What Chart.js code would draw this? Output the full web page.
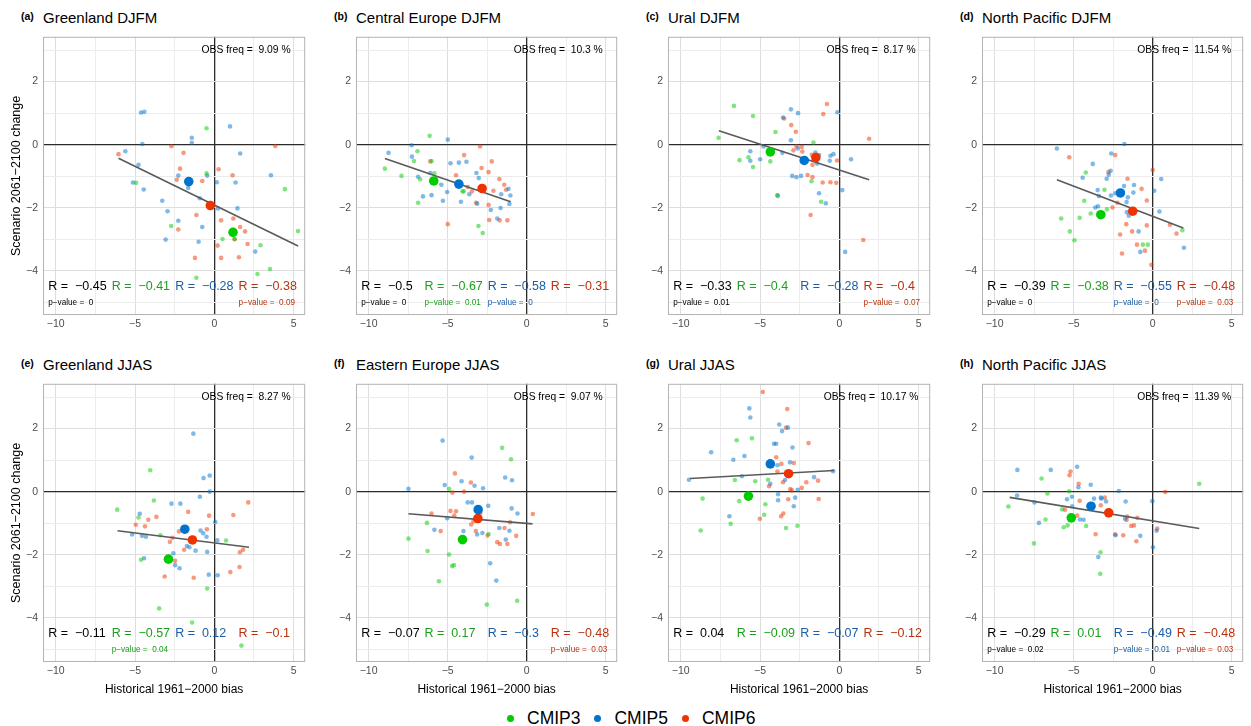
<!DOCTYPE html>
<html>
<head>
<meta charset="utf-8">
<script src="https://cdn.jsdelivr.net/npm/chart.js@4.4.1/dist/chart.umd.min.js"></script>
<style>
  body { margin: 0; background: #fff; width: 1251px; height: 726px; position: relative; overflow: hidden;
         font-family: "Liberation Sans", Arial, Helvetica, sans-serif; }
  .box { position: absolute; }
  .tag { position: absolute; font-weight: bold; font-size: 10.5px; line-height: 12px; }
  .name { position: absolute; font-size: 15px; line-height: 18px; white-space: nowrap; }
  #legend { position: absolute; top: 707px; left: 507px; display: flex; align-items: center;
            font-size: 17.5px; line-height: 22px; }
  #legend .dot { width: 7px; height: 7px; border-radius: 50%; margin-right: 13px; }
  #legend .lab { margin-right: 14px; }
</style>
</head>
<body>
<div id="legend"></div>
<script>
// panels
const panelIds = ['a', 'b', 'c', 'd', 'e', 'f', 'g', 'h'];
const panelNames = ['Greenland DJFM', 'Central Europe DJFM', 'Ural DJFM', 'North Pacific DJFM',
                    'Greenland JJAS', 'Eastern Europe JJAS', 'Ural JJAS', 'North Pacific JJAS'];
const obsFreq = ['9.09', '10.3', '8.17', '11.54', '8.27', '9.07', '10.17', '11.39'];

const seriesNames = ['CMIP3', 'CMIP5', 'CMIP6'];
const seriesColors = ['#00cc00', '#0073cf', '#ee3300'];
const seriesFaded = ['rgba(0,204,0,0.5)', 'rgba(0,115,207,0.5)', 'rgba(238,51,0,0.5)'];
const statColors = ['#000000', '#1ea01e', '#1a5ea8', '#b8320f'];

// correlation R (all, CMIP3, CMIP5, CMIP6) and shown p-values (null = not shown)
const rAll = [-0.45, -0.5, -0.33, -0.39, -0.11, -0.07, 0.04, -0.29];
const r3 = [-0.41, -0.67, -0.4, -0.38, -0.57, 0.17, -0.09, 0.01];
const r5 = [-0.28, -0.58, -0.28, -0.55, 0.12, -0.3, -0.07, -0.49];
const r6 = [-0.38, -0.31, -0.4, -0.48, -0.1, -0.48, -0.12, -0.48];
const pAll = [0, 0, 0.01, 0, null, null, null, 0.02];
const p3 = [null, 0.01, null, null, 0.04, null, null, null];
const p5 = [null, 0, null, 0, null, null, null, 0.01];
const p6 = [0.09, null, 0.07, 0.03, null, 0.03, null, 0.03];

// axes
const xMin = -10.8, xMax = 5.73, yMin = -5.4, yMax = 3.42;
const xTickVals = [-10, -7.5, -5, -2.5, 0, 2.5, 5];
const yTickVals = [-5, -4, -3, -2, -1, 0, 1, 2, 3];

// model points [bias, change]
const cmip3_a = [[-0.49,0.52],[-0.49,-0.91],[-4.93,-1.21],[4.45,-1.41],[-2.72,-2.58],[0.52,-2.99],[1.28,-2.99],[2.91,-3.19],[5.28,-2.74],[3.51,-3.94],[2.72,-4.1],[-1.13,-4.22]];
const cmip5_a = [[-4.62,1.02],[-4.41,1.04],[-5.61,-0.21],[-4.54,0.02],[-4.78,-0.64],[-5.13,-1.2],[-4.45,-1.42],[-1.42,0.22],[-1.42,0.06],[-0.45,-0.98],[0.99,0.58],[1.63,-0.28],[-2.27,-0.98],[-1.65,-1.37],[-0.91,-1.7],[0.16,-1.19],[1.34,-1.2],[1.46,-2.02],[0.23,-2.02],[-3.28,-1.78],[-2.95,-2.11],[-2.27,-2.41],[-0.76,-2.61],[-3.07,-3.01],[-0.99,-3.08],[3.57,-0.97],[2.58,-3.39]];
const cmip6_a = [[-6.04,-0.3],[-2.7,-0.05],[-1.94,-0.26],[-2.16,-0.76],[-2.37,-1.11],[-0.76,-1.15],[0.27,-0.78],[1.15,-0.97],[3.84,-0.04],[-1.13,-2.23],[-2.27,-2.69],[0.43,-2.4],[1.2,-2.34],[1.63,-2.61],[1.94,-2.75],[1.28,-3.0],[0.21,-3.2],[2.1,-3.15],[-1.22,-3.59],[0.43,-3.59],[1.55,-3.57]];

const cmip3_b = [[-6.14,0.28],[-8.97,-0.76],[-7.92,-0.99],[-7.13,-0.52],[-6.91,-0.21],[-6.74,-1.1],[-6.87,-1.84],[-6.02,-0.52],[-5.84,-0.91],[-4.06,-1.48],[-3.98,-1.48],[-3.05,-2.58],[-2.78,-2.8]];
const cmip5_b = [[-8.74,-0.26],[-7.28,-0.02],[-7.26,-0.38],[-4.99,0.16],[-6.87,-1.02],[-6.1,-0.9],[-6.56,-1.64],[-6.02,-1.6],[-5.4,-1.27],[-5.3,-1.78],[-5.03,-1.5],[-4.82,-0.59],[-4.29,-0.57],[-3.81,-0.54],[-4.16,-1.81],[-3.63,-1.57],[-3.18,-0.9],[-3.03,-1.06],[-3.13,-1.87],[-2.27,-2.07],[-1.86,-2.34],[-1.61,-1.57],[-1.65,-2.01],[-1.15,-1.4],[-1.03,-1.61],[-1.09,-1.88]];
const cmip6_b = [[-6.1,-0.53],[-4.47,-0.97],[-3.96,-0.33],[-2.95,-0.06],[-2.85,-0.74],[-2.41,-0.87],[-2.21,-0.53],[-3.73,-1.34],[-3.46,-1.48],[-2.1,-1.46],[-1.73,-1.09],[-1.42,-1.27],[-1.3,-1.43],[-3.2,-1.84],[-2.41,-1.91],[-4.99,-2.52],[-2.37,-2.39],[-1.71,-2.4],[-1.22,-2.4]];

const cmip3_c = [[-6.64,1.23],[-5.44,0.91],[-7.61,0.22],[-4.02,0.4],[-6.29,-0.49],[-5.73,-0.4],[-5.44,-0.71],[-4.35,-0.53],[-3.88,-1.63],[-1.63,0.07],[-1.75,-1.16],[-1.15,-1.81]];
const cmip5_c = [[-5.61,-0.21],[-5.61,-0.51],[-4.99,-0.46],[-4.78,-0.06],[-3.59,-0.26],[-3.55,0.86],[-3.05,1.12],[-2.6,1.0],[-3.05,0.14],[-2.62,-0.12],[-2.97,-0.99],[-2.7,-1.03],[-2.41,-0.99],[-3.9,-1.6],[-1.51,-0.25],[-1.28,-0.33],[-1.4,-0.6],[-0.56,-0.35],[-0.37,-0.3],[-0.6,-0.51],[0.74,-0.46],[-0.12,1.03],[-1.28,-1.54],[-0.85,-1.86],[0.19,-1.44],[0.37,-3.4]];
const cmip6_c = [[-3.48,0.83],[-3.03,0.62],[-2.74,0.41],[-0.78,1.29],[-1.01,0.97],[-2.89,-0.18],[-2.7,-0.05],[-2.37,-0.07],[-2.33,-0.22],[-1.73,-0.32],[-1.69,-0.64],[-2.0,-0.96],[-1.69,-1.03],[-1.05,-1.2],[-0.56,-1.19],[-0.19,-1.21],[-0.14,-0.5],[1.88,0.19],[-1.81,-2.23],[1.51,-3.02]];

const cmip3_d = [[-4.23,-0.88],[-3.05,-1.43],[-4.33,-1.78],[-3.92,-2.18],[-2.89,-2.05],[-5.79,-2.34],[-4.62,-2.32],[-5.24,-2.75],[-4.95,-3.03],[-0.62,-3.17],[-0.31,-3.17],[1.88,-2.71]];
const cmip5_d = [[-6.06,-0.12],[-1.79,0.02],[-3.79,-0.61],[-2.62,-0.28],[-2.78,-0.95],[-2.66,-0.83],[-2.91,-1.08],[-4.43,-1.05],[-3.48,-1.44],[-3.4,-1.63],[-3.63,-1.99],[-3.46,-1.95],[-2.64,-1.61],[-2.37,-1.54],[-1.81,-1.31],[-1.18,-1.28],[-1.22,-1.52],[-1.57,-1.67],[-1.65,-1.82],[-1.63,-2.14],[-1.51,-2.25],[-0.89,-2.75],[-0.78,-3.4],[0.1,-1.46],[0.54,-1.09],[0.43,-2.12],[1.98,-3.27]];
const cmip6_d = [[-5.28,-0.4],[-2.37,-0.33],[-2.8,-0.87],[-1.59,-1.08],[-2.54,-1.99],[-2.23,-1.84],[-0.7,-1.4],[-0.37,-1.77],[0.0,-0.8],[-1.67,-2.52],[-1.3,-2.75],[-2.06,-2.85],[-0.37,-2.56],[1.09,-2.54],[1.51,-2.82],[-0.99,-3.17],[-0.49,-3.36],[-1.94,-3.45],[-0.08,-3.81]];

const cmip3_e = [[-4.04,0.68],[-3.81,-0.28],[-6.12,-0.57],[-4.78,-0.82],[-3.4,-1.38],[-4.62,-2.16],[0.74,-1.55],[-0.45,-3.07],[-3.48,-3.7],[-1.4,-4.15],[1.71,-4.88]];
const cmip5_e = [[-1.32,1.84],[-0.68,0.43],[-0.29,0.51],[-0.29,0.0],[-0.91,-0.16],[-2.7,-0.38],[-2.14,-0.38],[-4.7,-0.7],[-5.18,-1.36],[-4.56,-1.4],[-4.31,-1.43],[-0.87,-1.23],[-0.7,-1.32],[-0.49,-1.43],[0.06,-0.96],[0.19,-1.54],[-1.73,-1.72],[-1.57,-1.76],[-1.18,-1.87],[-0.45,-1.91],[-2.58,-1.95],[-2.47,-2.33],[-2.19,-2.43],[-4.43,-2.11],[-0.35,-2.63],[0.21,-2.65]];
const cmip6_e = [[-4.95,-1.05],[-4.37,-1.1],[-4.16,-0.89],[-3.65,-0.8],[-1.65,-0.64],[-0.33,-0.76],[1.2,-0.74],[2.14,-0.34],[-2.23,-1.26],[-0.47,-1.19],[-2.64,-1.46],[-2.8,-1.59],[-1.9,-1.84],[-2.47,-2.19],[1.61,-1.92],[1.81,-1.84],[1.59,-2.39],[1.01,-2.55],[-3.13,-2.69],[-1.3,-2.73]];

const cmip3_f = [[-1.55,1.39],[-0.99,1.03],[-4.91,0.09],[-7.48,-1.49],[-6.31,-0.99],[-6.27,-1.88],[-4.91,-1.99],[-4.72,-2.36],[-4.6,-2.33],[-5.55,-2.84],[-2.41,-1.34],[-2.52,-3.58],[-0.6,-3.46]];
const cmip5_f = [[-5.32,1.62],[-7.48,0.09],[-3.48,1.08],[-5.18,0.21],[-4.12,0.33],[-3.3,0.19],[-2.76,0.11],[-3.73,-0.34],[-3.46,-0.34],[-2.43,-0.45],[-1.36,0.45],[-0.93,0.36],[-0.95,-0.53],[-0.58,-0.69],[-5.03,-0.84],[-5.84,-1.21],[-4.0,-1.25],[-3.13,-1.36],[-2.8,-1.31],[-1.73,-1.15],[-1.09,-1.24],[-1.32,-1.52],[-2.31,-2.27],[-1.92,-2.82]];
const cmip6_f = [[-4.54,0.58],[-3.53,0.29],[-3.96,0.0],[-4.7,-0.03],[-6.02,-0.69],[-4.82,-0.61],[-4.47,-0.62],[-4.58,-0.76],[-5.44,-1.25],[-3.51,-1.04],[-3.36,-0.94],[-2.93,-0.68],[-3.22,-1.25],[-2.47,-1.39],[-1.4,-1.15],[-1.05,-0.97],[-0.66,-1.4],[-1.86,-1.6],[-1.69,-1.66],[-1.22,-1.66],[0.39,-0.71]];

const cmip3_g = [[-6.47,1.63],[-5.51,1.69],[-6.58,0.37],[-5.3,0.33],[-4.49,0.38],[-8.62,-0.22],[-6.31,-0.3],[-4.66,-0.4],[-4.74,-0.73],[-6.85,-1.02],[-8.74,-1.23],[-3.36,-1.15],[-2.64,-1.08]];
const cmip5_g = [[-5.67,2.64],[-5.61,2.35],[-3.79,2.13],[-3.61,1.92],[-3.24,2.03],[-4.12,1.52],[-3.98,1.52],[-2.95,1.4],[-8.08,1.25],[-5.98,1.13],[-6.68,1.01],[-3.11,0.93],[-3.9,0.84],[-6.14,0.49],[-9.48,0.38],[-3.42,0.37],[-4.35,0.25],[-1.59,0.46],[-0.39,0.65],[-2.62,0.06],[-3.86,-0.08],[-3.86,-0.27],[-2.78,-0.19],[-2.87,-0.46],[-6.93,-0.78]];
const cmip6_g = [[-4.82,3.16],[-3.28,2.62],[-3.36,2.03],[-1.94,1.54],[-3.98,1.09],[-3.65,0.88],[-2.87,0.91],[-3.9,0.64],[-3.55,0.3],[-2.08,0.3],[-1.34,0.35],[-4.43,0.17],[-3.09,0.08],[-2.99,0.04],[-2.37,0.12],[-3.22,-0.24],[-1.3,-0.23],[-3.53,-0.69],[-3.67,-0.78],[-5.01,-0.86]];

const cmip3_h = [[-7.03,0.42],[-6.66,-0.06],[-5.28,0.01],[-9.13,-0.47],[-6.78,-0.88],[-5.73,-0.56],[-5.63,-1.13],[-5.38,-1.07],[-4.21,-1.09],[-7.51,-1.64],[-3.3,-1.92],[-3.32,-2.6],[2.95,0.25]];
const cmip5_h = [[-8.56,0.69],[-6.45,0.69],[-4.78,0.79],[-8.58,-0.12],[-7.48,-0.34],[-7.2,-0.99],[-4.7,0.14],[-3.92,0.22],[-5.42,-0.24],[-5.11,-0.16],[-5.09,-0.46],[-4.6,-0.88],[-4.37,-0.89],[-3.71,-0.22],[-3.28,-0.19],[-3.24,-0.22],[-2.95,-0.31],[-2.14,0.02],[-1.71,-0.31],[-1.75,-0.86],[-2.35,-1.38],[-0.78,-1.4],[-0.02,-0.3],[0.02,-1.76],[0.25,-1.24],[-3.44,-2.07]];
const cmip6_h = [[-5.2,0.64],[-5.26,0.52],[-4.68,0.25],[-4.62,-0.29],[-5.55,-0.57],[-3.28,-0.43],[-3.03,-0.19],[-4.78,-0.76],[-3.61,-1.35],[-2.37,-1.35],[-1.86,-1.38],[-1.61,-0.79],[-1.65,-0.9],[-0.97,-0.83],[-1.36,-1.09],[-1.18,-1.07],[-1.03,-1.57],[0.29,-1.17],[0.8,-0.01]];

const cmip3Sets = [cmip3_a, cmip3_b, cmip3_c, cmip3_d, cmip3_e, cmip3_f, cmip3_g, cmip3_h];
const cmip5Sets = [cmip5_a, cmip5_b, cmip5_c, cmip5_d, cmip5_e, cmip5_f, cmip5_g, cmip5_h];
const cmip6Sets = [cmip6_a, cmip6_b, cmip6_c, cmip6_d, cmip6_e, cmip6_f, cmip6_g, cmip6_h];

// ensemble means
const mean3 = [[1.18,-2.78],[-5.88,-1.15],[-4.35,-0.23],[-3.28,-2.22],[-2.89,-2.14],[-4.06,-1.52],[-5.73,-0.14],[-5.15,-0.83]];
const mean5 = [[-1.61,-1.17],[-4.29,-1.25],[-2.21,-0.5],[-2.04,-1.53],[-1.86,-1.19],[-3.07,-0.57],[-4.35,0.88],[-3.9,-0.46]];
const mean6 = [[-0.25,-1.93],[-2.82,-1.39],[-1.48,-0.41],[-1.26,-2.11],[-1.38,-1.53],[-3.09,-0.85],[-3.2,0.57],[-2.78,-0.67]];

// regression line end points, all models
const fitLines = [
  [[-6.04,-0.43],[5.28,-3.21]], [[-8.97,-0.44],[-1.01,-1.81]], [[-7.59,0.44],[1.88,-1.11]], [[-6.06,-1.11],[1.94,-2.64]],
  [[-6.1,-1.24],[2.19,-1.76]], [[-7.48,-0.7],[0.37,-1.02]], [[-9.42,0.42],[-0.33,0.67]], [[-9.05,-0.18],[2.95,-1.17]]
];

// layout
const cols = [{ left: 0, yw: 43, w: 310 }, { left: 328, yw: 28, w: 294 }, { left: 640, yw: 28, w: 295 }, { left: 954, yw: 28, w: 294 }];
const rows = [{ top: 32, xh: 22, h: 305 }, { top: 379, xh: 36, h: 319 }];
const FONT = '"Liberation Sans", Arial, Helvetica, sans-serif';
Chart.defaults.font.family = FONT;

const fmt = v => (v < 0 ? '\u2212' : '') + Math.abs(v);
const pts = arr => arr.map(p => ({ x: p[0], y: p[1] }));

// text inside each panel + panel border
const annotate = {
  id: 'annotate',
  afterDraw(chart, args, opts) {
    const { ctx, chartArea: a, scales: { x, y } } = chart;
    const i = opts.panel;
    ctx.save();
    ctx.strokeStyle = '#b3b3b3';
    ctx.lineWidth = 1;
    ctx.strokeRect(a.left + 0.5, a.top + 0.5, a.width - 1, a.height - 1);

    ctx.fillStyle = '#000';
    ctx.textBaseline = 'middle';
    ctx.textAlign = 'center';
    ctx.font = '10.3px ' + FONT;
    ctx.fillText('OBS freq =  ' + obsFreq[i] + ' %', x.getPixelForValue(2), y.getPixelForValue(3));

    const rs = [rAll[i], r3[i], r5[i], r6[i]];
    const ps = [pAll[i], p3[i], p5[i], p6[i]];
    const statX = [-10.47, -6.47, -2.47, 1.53];
    ctx.textAlign = 'left';
    rs.forEach((r, k) => {
      ctx.fillStyle = statColors[k];
      ctx.font = '12.5px ' + FONT;
      ctx.fillText('R =  ' + fmt(r), x.getPixelForValue(statX[k]), y.getPixelForValue(-4.49));
      if (ps[k] !== null) {
        ctx.font = '8.2px ' + FONT;
        ctx.fillText('p\u2212value =  ' + ps[k], x.getPixelForValue(statX[k]), y.getPixelForValue(-5.01));
      }
    });
    ctx.restore();
  }
};

panelIds.forEach((id, i) => {
  const col = cols[i % 4], row = rows[Math.floor(i / 4)];
  const plotLeft = col.left + col.yw;

  const tag = document.createElement('div');
  tag.className = 'tag';
  tag.textContent = '(' + id + ')';
  tag.style.left = (plotLeft - 22) + 'px';
  tag.style.top = (row.top - 22.5) + 'px';
  document.body.appendChild(tag);

  const name = document.createElement('div');
  name.className = 'name';
  name.textContent = panelNames[i];
  name.style.left = plotLeft + 'px';
  name.style.top = (row.top - 23) + 'px';
  document.body.appendChild(name);

  const box = document.createElement('div');
  box.className = 'box';
  box.style.left = col.left + 'px';
  box.style.top = row.top + 'px';
  box.style.width = col.w + 'px';
  box.style.height = row.h + 'px';
  const canvas = document.createElement('canvas');
  box.appendChild(canvas);
  document.body.appendChild(box);

  const gridColor = c => (c.tick && c.tick.value === 0) ? '#2b2b2b'
    : (c.tick && Number.isInteger(c.tick.value / (c.scale.axis === 'x' ? 5 : 2))) ? '#dedede' : '#ececec';
  const gridWidth = c => (c.tick && c.tick.value === 0) ? 1.3 : 1;

  const pointSet = (data, k) => ({
    type: 'scatter', data: pts(data), order: 2,
    backgroundColor: seriesFaded[k], borderWidth: 0, pointRadius: 2.3, pointHoverRadius: 2.3
  });
  const meanSet = (p, k) => ({
    type: 'scatter', data: pts([p]), order: 0,
    backgroundColor: seriesColors[k], borderWidth: 0, pointRadius: 4.8, pointHoverRadius: 4.8
  });

  new Chart(canvas, {
    type: 'scatter',
    data: {
      datasets: [
        pointSet(cmip3Sets[i], 0), pointSet(cmip5Sets[i], 1), pointSet(cmip6Sets[i], 2),
        { type: 'line', data: pts(fitLines[i]), order: 1, borderColor: '#5a5a5a', borderWidth: 1.6,
          pointRadius: 0, fill: false },
        meanSet(mean3[i], 0), meanSet(mean5[i], 1), meanSet(mean6[i], 2)
      ]
    },
    options: {
      responsive: true,
      maintainAspectRatio: false,
      animation: false,
      events: [],
      layout: { padding: 0 },
      plugins: { legend: { display: false }, tooltip: { enabled: false }, annotate: { panel: i } },
      scales: {
        x: {
          type: 'linear', min: xMin, max: xMax,
          afterBuildTicks: s => { s.ticks = xTickVals.map(v => ({ value: v })); },
          afterFit: s => { s.height = row.xh; s.paddingLeft = 0; s.paddingRight = 0; },
          ticks: { autoSkip: false, maxRotation: 0, padding: 3, color: '#4d4d4d', font: { size: 10.5 },
                   callback: v => (Number.isInteger(v / 5) ? fmt(v) : '') },
          grid: { drawTicks: false, color: gridColor, lineWidth: gridWidth },
          border: { display: false },
          title: { display: row === rows[1], text: 'Historical 1961\u22122000 bias', color: '#000',
                   font: { size: 12 }, padding: { top: 0, bottom: 1 } }
        },
        y: {
          type: 'linear', min: yMin, max: yMax,
          afterBuildTicks: s => { s.ticks = yTickVals.map(v => ({ value: v })); },
          afterFit: s => { s.width = col.yw; s.paddingTop = 0; s.paddingBottom = 0; },
          ticks: { autoSkip: false, padding: 5, color: '#4d4d4d', font: { size: 10.5 },
                   callback: v => (Number.isInteger(v / 2) ? fmt(v) : '') },
          grid: { drawTicks: false, color: gridColor, lineWidth: gridWidth },
          border: { display: false },
          title: { display: col === cols[0], text: 'Scenario 2061\u22122100 change', color: '#000',
                   font: { size: 12.5 }, padding: { top: 9, bottom: 0 } }
        }
      }
    },
    plugins: [annotate]
  });
});

// shared legend
const legend = document.getElementById('legend');
seriesNames.forEach((s, k) => {
  const dot = document.createElement('span');
  dot.className = 'dot';
  dot.style.background = seriesColors[k];
  const lab = document.createElement('span');
  lab.className = 'lab';
  lab.textContent = s;
  legend.appendChild(dot);
  legend.appendChild(lab);
});
</script>
</body>
</html>
